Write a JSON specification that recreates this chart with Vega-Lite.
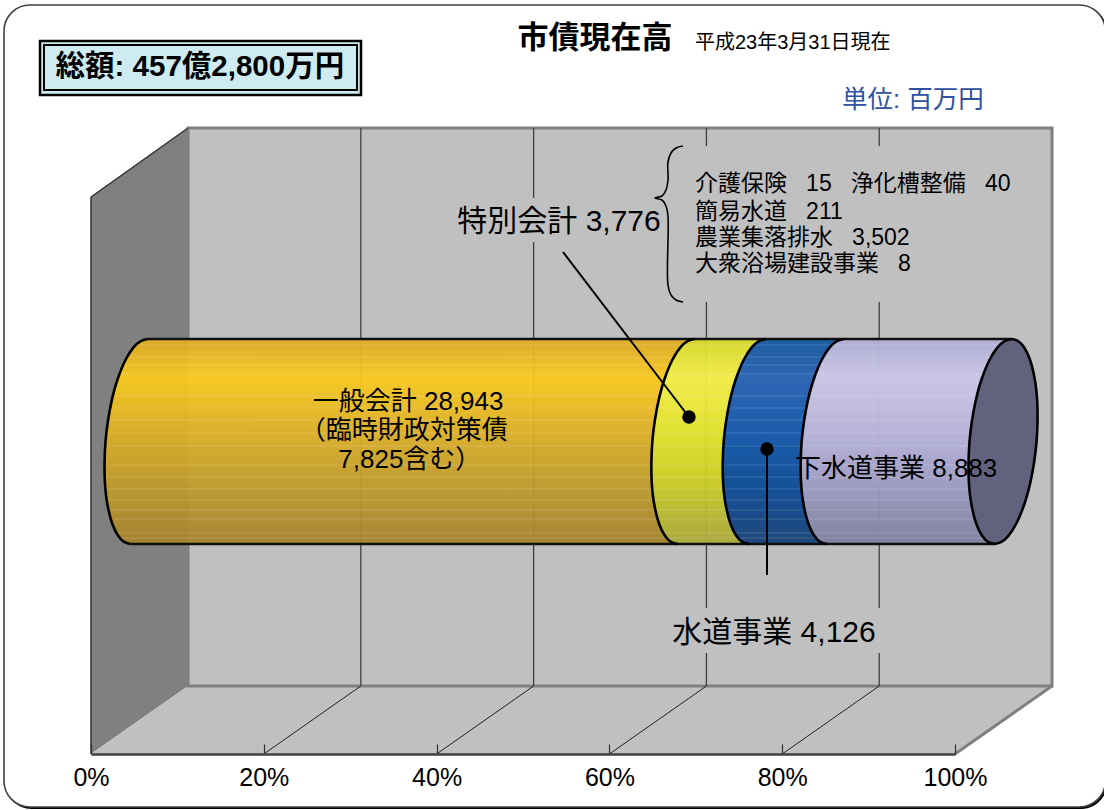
{"$schema":"https://vega.github.io/schema/vega-lite/v6.json","width":864,"height":754,"padding":{"left":91,"top":0,"right":149,"bottom":56},"autosize":{"type":"none"},"background":"#ffffff","config":{"view":{"stroke":null}},
"datasets":{
"frame":[{"x":-10.07,"x2":117.4,"y":749,"y2":-53}],
"shadow":[{"x":-9.9,"x2":117.6,"y":748,"y2":-55}],
"leftwall":[{"x":0,"y":0,"y2":557},{"x":11.23,"y":68,"y2":626}],
"floor":[{"x":0,"y":0,"y2":0},{"x":11.23,"y":68,"y2":0},{"x":100,"y":68,"y2":0},{"x":111.23,"y":68,"y2":68}],
"back":[{"x":11.23,"x2":111.23,"y":626,"y2":68}],
"wallgrid":[{"x":31.23,"x2":31.23,"y":626,"y2":68},{"x":51.23,"x2":51.23,"y":626,"y2":68},{"x":71.23,"x2":71.23,"y":626,"y2":68},{"x":91.23,"x2":91.23,"y":626,"y2":68}],
"floorgrid":[{"x":20,"x2":31.23,"y":0,"y2":68},{"x":40,"x2":51.23,"y":0,"y2":68},{"x":60,"x2":71.23,"y":0,"y2":68},{"x":80,"x2":91.23,"y":0,"y2":68}],
"darkedge":[{"x":0,"x2":0,"y":0,"y2":557},{"x":0,"x2":11.23,"y":557,"y2":626}],
"grayedge":[{"x":100,"x2":111.23,"y":0,"y2":68}],
"masks":[{"x":45,"x2":62,"y":556,"y2":512},{"x":69,"x2":110,"y":608,"y2":452},{"x":66,"x2":97,"y":146,"y2":101}],
"cyl":[
{"seg":"A","i":0,"y":415,"xl":6.54,"xr":69.83},{"seg":"A","i":1,"y":412.95,"xl":5.75,"xr":69.04},{"seg":"A","i":2,"y":406.8,"xl":4.95,"xr":68.24},{"seg":"A","i":3,"y":394.5,"xl":4.02,"xr":67.31},{"seg":"A","i":4,"y":374,"xl":3.05,"xr":66.34},{"seg":"A","i":5,"y":353.5,"xl":2.4,"xr":65.69},{"seg":"A","i":6,"y":333,"xl":1.96,"xr":65.25},{"seg":"A","i":7,"y":312.5,"xl":1.68,"xr":64.97},{"seg":"A","i":8,"y":292,"xl":1.57,"xr":64.86},{"seg":"A","i":9,"y":271.5,"xl":1.61,"xr":64.9},{"seg":"A","i":10,"y":251,"xl":1.87,"xr":65.16},{"seg":"A","i":11,"y":230.5,"xl":2.45,"xr":65.74},{"seg":"A","i":12,"y":218.2,"xl":3.14,"xr":66.43},{"seg":"A","i":13,"y":212.05,"xl":3.82,"xr":67.11},{"seg":"A","i":14,"y":210,"xl":4.58,"xr":67.87},
{"seg":"B","i":0,"y":415,"xl":69.83,"xr":78.09},{"seg":"B","i":1,"y":412.95,"xl":69.04,"xr":77.3},{"seg":"B","i":2,"y":406.8,"xl":68.24,"xr":76.5},{"seg":"B","i":3,"y":394.5,"xl":67.31,"xr":75.57},{"seg":"B","i":4,"y":374,"xl":66.34,"xr":74.6},{"seg":"B","i":5,"y":353.5,"xl":65.69,"xr":73.95},{"seg":"B","i":6,"y":333,"xl":65.25,"xr":73.51},{"seg":"B","i":7,"y":312.5,"xl":64.97,"xr":73.23},{"seg":"B","i":8,"y":292,"xl":64.86,"xr":73.12},{"seg":"B","i":9,"y":271.5,"xl":64.9,"xr":73.16},{"seg":"B","i":10,"y":251,"xl":65.16,"xr":73.42},{"seg":"B","i":11,"y":230.5,"xl":65.74,"xr":74},{"seg":"B","i":12,"y":218.2,"xl":66.43,"xr":74.69},{"seg":"B","i":13,"y":212.05,"xl":67.11,"xr":75.37},{"seg":"B","i":14,"y":210,"xl":67.87,"xr":76.13},
{"seg":"C","i":0,"y":415,"xl":78.09,"xr":87.11},{"seg":"C","i":1,"y":412.95,"xl":77.3,"xr":86.32},{"seg":"C","i":2,"y":406.8,"xl":76.5,"xr":85.52},{"seg":"C","i":3,"y":394.5,"xl":75.57,"xr":84.59},{"seg":"C","i":4,"y":374,"xl":74.6,"xr":83.62},{"seg":"C","i":5,"y":353.5,"xl":73.95,"xr":82.97},{"seg":"C","i":6,"y":333,"xl":73.51,"xr":82.53},{"seg":"C","i":7,"y":312.5,"xl":73.23,"xr":82.25},{"seg":"C","i":8,"y":292,"xl":73.12,"xr":82.14},{"seg":"C","i":9,"y":271.5,"xl":73.16,"xr":82.18},{"seg":"C","i":10,"y":251,"xl":73.42,"xr":82.44},{"seg":"C","i":11,"y":230.5,"xl":74,"xr":83.02},{"seg":"C","i":12,"y":218.2,"xl":74.69,"xr":83.71},{"seg":"C","i":13,"y":212.05,"xl":75.37,"xr":84.39},{"seg":"C","i":14,"y":210,"xl":76.13,"xr":85.15},
{"seg":"D","i":0,"y":415,"xl":87.11,"xr":106.54},{"seg":"D","i":1,"y":412.95,"xl":86.32,"xr":106.54},{"seg":"D","i":2,"y":406.8,"xl":85.52,"xr":106.54},{"seg":"D","i":3,"y":394.5,"xl":84.59,"xr":106},{"seg":"D","i":4,"y":374,"xl":83.62,"xr":106},{"seg":"D","i":5,"y":353.5,"xl":82.97,"xr":106},{"seg":"D","i":6,"y":333,"xl":82.53,"xr":106},{"seg":"D","i":7,"y":312.5,"xl":82.25,"xr":106},{"seg":"D","i":8,"y":292,"xl":82.14,"xr":106},{"seg":"D","i":9,"y":271.5,"xl":82.18,"xr":106},{"seg":"D","i":10,"y":251,"xl":82.44,"xr":106},{"seg":"D","i":11,"y":230.5,"xl":83.02,"xr":105},{"seg":"D","i":12,"y":218.2,"xl":83.71,"xr":105},{"seg":"D","i":13,"y":212.05,"xl":84.39,"xr":105},{"seg":"D","i":14,"y":210,"xl":85.15,"xr":104.58},
{"seg":"E","i":0,"y":415,"xl":106.54,"xr":106.54},{"seg":"E","i":1,"y":412.95,"xl":105.75,"xr":107.3},{"seg":"E","i":2,"y":406.8,"xl":104.95,"xr":107.99},{"seg":"E","i":3,"y":394.5,"xl":104.02,"xr":108.67},{"seg":"E","i":4,"y":374,"xl":103.05,"xr":109.25},{"seg":"E","i":5,"y":353.5,"xl":102.4,"xr":109.51},{"seg":"E","i":6,"y":333,"xl":101.96,"xr":109.55},{"seg":"E","i":7,"y":312.5,"xl":101.68,"xr":109.44},{"seg":"E","i":8,"y":292,"xl":101.57,"xr":109.16},{"seg":"E","i":9,"y":271.5,"xl":101.61,"xr":108.72},{"seg":"E","i":10,"y":251,"xl":101.87,"xr":108.07},{"seg":"E","i":11,"y":230.5,"xl":102.45,"xr":107.1},{"seg":"E","i":12,"y":218.2,"xl":103.14,"xr":106.18},{"seg":"E","i":13,"y":212.05,"xl":103.82,"xr":105.37},{"seg":"E","i":14,"y":210,"xl":104.58,"xr":104.58}],
"stripes":[{"x":5.17,"x2":105.56,"y":409},{"x":4.18,"x2":105.56,"y":397},{"x":3.71,"x2":105.56,"y":389},{"x":3.29,"x2":105.56,"y":380},{"x":2.53,"x2":105.56,"y":358},{"x":2.22,"x2":105.56,"y":346},{"x":1.97,"x2":105.56,"y":334},{"x":1.78,"x2":105.56,"y":321},{"x":1.64,"x2":105.56,"y":308},{"x":1.57,"x2":105.56,"y":289},{"x":1.58,"x2":105.56,"y":277},{"x":1.67,"x2":105.56,"y":265},{"x":1.81,"x2":105.56,"y":254},{"x":2.02,"x2":105.56,"y":244},{"x":2.27,"x2":105.56,"y":235},{"x":2.93,"x2":105.56,"y":221},{"x":3.33,"x2":105.56,"y":216}],
"edges":[{"x":6.54,"x2":106.54,"y":415,"y2":415},{"x":4.58,"x2":104.58,"y":210,"y2":210}],
"brace":[{"i":0,"x":68.52,"y":608},{"i":1,"x":67.71,"y":606},{"i":2,"x":67.13,"y":601},{"i":3,"x":66.78,"y":592},{"i":4,"x":66.78,"y":574},{"i":5,"x":66.55,"y":564},{"i":6,"x":66.09,"y":558},{"i":7,"x":65.28,"y":556},{"i":8,"x":66.09,"y":554},{"i":9,"x":66.55,"y":548},{"i":10,"x":66.78,"y":538},{"i":11,"x":66.78,"y":469},{"i":12,"x":67.13,"y":459},{"i":13,"x":67.71,"y":454},{"i":14,"x":68.52,"y":452}],
"leaders":[{"x":54.63,"x2":69.21,"y":502,"y2":337},{"x":78.24,"x2":78.24,"y":305,"y2":179}],
"dots":[{"x":69.21,"y":337},{"x":78.24,"y":305}],
"boxes":[{"x":-5.9,"x2":31.25,"y":713,"y2":659}],
"boxes2":[{"x":-5.44,"x2":30.79,"y":709,"y2":664}]
},
"layer":[
{"data":{"name":"shadow"},"mark":{"type":"rect","cornerRadius":26,"color":"#000000"},"encoding":{"x":{"field":"x","type":"quantitative","scale":{"domain":[0,100]},"title":null,"axis":{"values":[0,20,40,60,80,100],"labelExpr":"datum.value+'%'","grid":false,"zindex":1,"tickSize":-10,"tickColor":"#303030","tickWidth":1.2,"domainColor":"#404040","domainWidth":2.5,"labelFont":"Liberation Sans","labelFontSize":25,"labelColor":"#000000","labelPadding":21,"labelFlush":false,"labelOverlap":false}},"x2":{"field":"x2"},"y":{"field":"y","type":"quantitative","scale":{"domain":[0,754]},"axis":null},"y2":{"field":"y2"}}},
{"data":{"name":"frame"},"mark":{"type":"rect","cornerRadius":26,"fill":"#ffffff","stroke":"#404040","strokeWidth":1.6},"encoding":{"x":{"field":"x","type":"quantitative","scale":{"domain":[0,100]},"title":null},"x2":{"field":"x2"},"y":{"field":"y","type":"quantitative","scale":{"domain":[0,754]},"axis":null},"y2":{"field":"y2"}}},
{"data":{"name":"leftwall"},"mark":{"type":"area","color":"#808080"},"encoding":{"x":{"field":"x","type":"quantitative","scale":{"domain":[0,100]},"title":null},"y":{"field":"y","type":"quantitative","scale":{"domain":[0,754]},"axis":null},"y2":{"field":"y2"}}},
{"data":{"name":"floor"},"mark":{"type":"area","color":"#C0C0C0"},"encoding":{"x":{"field":"x","type":"quantitative","scale":{"domain":[0,100]},"title":null},"y":{"field":"y","type":"quantitative","scale":{"domain":[0,754]},"axis":null},"y2":{"field":"y2"}}},
{"data":{"name":"back"},"mark":{"type":"rect","fill":"#C0C0C0","stroke":"#808080","strokeWidth":3},"encoding":{"x":{"field":"x","type":"quantitative","scale":{"domain":[0,100]},"title":null},"x2":{"field":"x2"},"y":{"field":"y","type":"quantitative","scale":{"domain":[0,754]},"axis":null},"y2":{"field":"y2"}}},
{"data":{"name":"wallgrid"},"mark":{"type":"rule","color":"#404040","strokeWidth":1.3},"encoding":{"x":{"field":"x","type":"quantitative","scale":{"domain":[0,100]},"title":null},"x2":{"field":"x2"},"y":{"field":"y","type":"quantitative","scale":{"domain":[0,754]},"axis":null},"y2":{"field":"y2"}}},
{"data":{"name":"floorgrid"},"mark":{"type":"rule","color":"#202020","strokeWidth":1},"encoding":{"x":{"field":"x","type":"quantitative","scale":{"domain":[0,100]},"title":null},"x2":{"field":"x2"},"y":{"field":"y","type":"quantitative","scale":{"domain":[0,754]},"axis":null},"y2":{"field":"y2"}}},
{"data":{"name":"darkedge"},"mark":{"type":"rule","color":"#303030","strokeWidth":1.5},"encoding":{"x":{"field":"x","type":"quantitative","scale":{"domain":[0,100]},"title":null},"x2":{"field":"x2"},"y":{"field":"y","type":"quantitative","scale":{"domain":[0,754]},"axis":null},"y2":{"field":"y2"}}},
{"data":{"name":"grayedge"},"mark":{"type":"rule","color":"#808080","strokeWidth":3},"encoding":{"x":{"field":"x","type":"quantitative","scale":{"domain":[0,100]},"title":null},"x2":{"field":"x2"},"y":{"field":"y","type":"quantitative","scale":{"domain":[0,754]},"axis":null},"y2":{"field":"y2"}}},
{"data":{"name":"masks"},"mark":{"type":"rect","color":"#C0C0C0"},"encoding":{"x":{"field":"x","type":"quantitative","scale":{"domain":[0,100]},"title":null},"x2":{"field":"x2"},"y":{"field":"y","type":"quantitative","scale":{"domain":[0,754]},"axis":null},"y2":{"field":"y2"}}},
{"data":{"name":"cyl"},"transform":[{"filter":"datum.seg=='A'"}],"mark":{"type":"area","orient":"horizontal","interpolate":"monotone","opacity":0.95,"color":{"gradient":"linear","x1":0,"y1":0,"x2":0,"y2":1,"stops":[{"offset":0,"color":"#DDAA26"},{"offset":0.19,"color":"#FACA1E"},{"offset":0.45,"color":"#DDB027"},{"offset":0.75,"color":"#BC992D"},{"offset":1,"color":"#A5822E"}]}},"encoding":{"y":{"field":"y","type":"quantitative","scale":{"domain":[0,754]},"axis":null},"x":{"field":"xl","type":"quantitative","scale":{"domain":[0,100]},"title":null},"x2":{"field":"xr"}}},
{"data":{"name":"cyl"},"transform":[{"filter":"datum.seg=='B'"}],"mark":{"type":"area","orient":"horizontal","interpolate":"monotone","opacity":0.95,"color":{"gradient":"linear","x1":0,"y1":0,"x2":0,"y2":1,"stops":[{"offset":0,"color":"#D8D82A"},{"offset":0.19,"color":"#F3EE45"},{"offset":0.45,"color":"#E2E22C"},{"offset":0.65,"color":"#CFD222"},{"offset":1,"color":"#A8A83A"}]}},"encoding":{"y":{"field":"y","type":"quantitative","scale":{"domain":[0,754]},"axis":null},"x":{"field":"xl","type":"quantitative","scale":{"domain":[0,100]},"title":null},"x2":{"field":"xr"}}},
{"data":{"name":"cyl"},"transform":[{"filter":"datum.seg=='C'"}],"mark":{"type":"area","orient":"horizontal","interpolate":"monotone","opacity":0.97,"color":{"gradient":"linear","x1":0,"y1":0,"x2":0,"y2":1,"stops":[{"offset":0,"color":"#195AA0"},{"offset":0.19,"color":"#2A64B4"},{"offset":0.5,"color":"#1458A8"},{"offset":0.75,"color":"#104C94"},{"offset":1,"color":"#1B4478"}]}},"encoding":{"y":{"field":"y","type":"quantitative","scale":{"domain":[0,754]},"axis":null},"x":{"field":"xl","type":"quantitative","scale":{"domain":[0,100]},"title":null},"x2":{"field":"xr"}}},
{"data":{"name":"cyl"},"transform":[{"filter":"datum.seg=='D'"}],"mark":{"type":"area","orient":"horizontal","interpolate":"monotone","opacity":0.97,"color":{"gradient":"linear","x1":0,"y1":0,"x2":0,"y2":1,"stops":[{"offset":0,"color":"#AFADD6"},{"offset":0.19,"color":"#CAC7E6"},{"offset":0.5,"color":"#B4B0D8"},{"offset":0.75,"color":"#9A98BE"},{"offset":1,"color":"#80809E"}]}},"encoding":{"y":{"field":"y","type":"quantitative","scale":{"domain":[0,754]},"axis":null},"x":{"field":"xl","type":"quantitative","scale":{"domain":[0,100]},"title":null},"x2":{"field":"xr"}}},
{"data":{"name":"stripes"},"mark":{"type":"rule","color":"#ffffff","opacity":0.16,"strokeWidth":1},"encoding":{"x":{"field":"x","type":"quantitative","scale":{"domain":[0,100]},"title":null},"x2":{"field":"x2"},"y":{"field":"y","type":"quantitative","scale":{"domain":[0,754]},"axis":null}}},
{"data":{"name":"cyl"},"transform":[{"filter":"datum.seg=='E'"}],"mark":{"type":"area","orient":"horizontal","interpolate":"monotone","color":"#62627E"},"encoding":{"y":{"field":"y","type":"quantitative","scale":{"domain":[0,754]},"axis":null},"x":{"field":"xl","type":"quantitative","scale":{"domain":[0,100]},"title":null},"x2":{"field":"xr"}}},
{"data":{"name":"edges"},"mark":{"type":"rule","color":"#101010","strokeWidth":2.5},"encoding":{"x":{"field":"x","type":"quantitative","scale":{"domain":[0,100]},"title":null},"x2":{"field":"x2"},"y":{"field":"y","type":"quantitative","scale":{"domain":[0,754]},"axis":null},"y2":{"field":"y2"}}},
{"data":{"name":"cyl"},"mark":{"type":"line","color":"#000000","strokeWidth":2.6,"interpolate":"catmull-rom"},"encoding":{"x":{"field":"xl","type":"quantitative","scale":{"domain":[0,100]},"title":null},"y":{"field":"y","type":"quantitative","scale":{"domain":[0,754]},"axis":null},"detail":{"field":"seg"},"order":{"field":"i"}}},
{"data":{"name":"cyl"},"transform":[{"filter":"datum.seg=='E'"}],"mark":{"type":"line","color":"#000000","strokeWidth":2.6,"interpolate":"catmull-rom"},"encoding":{"x":{"field":"xr","type":"quantitative","scale":{"domain":[0,100]},"title":null},"y":{"field":"y","type":"quantitative","scale":{"domain":[0,754]},"axis":null},"order":{"field":"i"}}},
{"data":{"name":"brace"},"mark":{"type":"line","color":"#000000","strokeWidth":1.6,"interpolate":"catmull-rom"},"encoding":{"x":{"field":"x","type":"quantitative","scale":{"domain":[0,100]},"title":null},"y":{"field":"y","type":"quantitative","scale":{"domain":[0,754]},"axis":null},"order":{"field":"i"}}},
{"data":{"name":"leaders"},"mark":{"type":"rule","color":"#000000","strokeWidth":2},"encoding":{"x":{"field":"x","type":"quantitative","scale":{"domain":[0,100]},"title":null},"x2":{"field":"x2"},"y":{"field":"y","type":"quantitative","scale":{"domain":[0,754]},"axis":null},"y2":{"field":"y2"}}},
{"data":{"name":"dots"},"mark":{"type":"point","filled":true,"color":"#000000","opacity":1,"size":180},"encoding":{"x":{"field":"x","type":"quantitative","scale":{"domain":[0,100]},"title":null},"y":{"field":"y","type":"quantitative","scale":{"domain":[0,754]},"axis":null}}},
{"data":{"name":"boxes"},"mark":{"type":"rect","fill":"#CDEBF0","stroke":"#000000","strokeWidth":2.5},"encoding":{"x":{"field":"x","type":"quantitative","scale":{"domain":[0,100]},"title":null},"x2":{"field":"x2"},"y":{"field":"y","type":"quantitative","scale":{"domain":[0,754]},"axis":null},"y2":{"field":"y2"}}},
{"data":{"name":"boxes2"},"mark":{"type":"rect","fill":"#CDEBF0","stroke":"#000000","strokeWidth":2},"encoding":{"x":{"field":"x","type":"quantitative","scale":{"domain":[0,100]},"title":null},"x2":{"field":"x2"},"y":{"field":"y","type":"quantitative","scale":{"domain":[0,754]},"axis":null},"y2":{"field":"y2"}}},
{"data":{"values":[{"t":"総額:\u00a0457億2,800万円","x":12.6,"y":687}]},"mark":{"type":"text","font":"Liberation Sans, Noto Sans CJK JP","fontSize":29.5,"fontWeight":"bold","color":"#000000","align":"center","baseline":"middle"},"encoding":{"text":{"field":"t"},"x":{"field":"x","type":"quantitative","scale":{"domain":[0,100]},"title":null},"y":{"field":"y","type":"quantitative","scale":{"domain":[0,754]},"axis":null}}},
{"data":{"values":[{"t":"市債現在高","x":58.33,"y":715}]},"mark":{"type":"text","font":"Noto Sans CJK JP","fontSize":31,"fontWeight":"bold","color":"#000000","align":"center","baseline":"middle"},"encoding":{"text":{"field":"t"},"x":{"field":"x","type":"quantitative","scale":{"domain":[0,100]},"title":null},"y":{"field":"y","type":"quantitative","scale":{"domain":[0,754]},"axis":null}}},
{"data":{"values":[{"t":"平成23年3月31日現在","x":69.9,"y":711}]},"mark":{"type":"text","font":"Liberation Sans, Noto Sans CJK JP","fontSize":20,"color":"#000000","align":"left","baseline":"middle"},"encoding":{"text":{"field":"t"},"x":{"field":"x","type":"quantitative","scale":{"domain":[0,100]},"title":null},"y":{"field":"y","type":"quantitative","scale":{"domain":[0,754]},"axis":null}}},
{"data":{"values":[{"t":"単位:\u00a0百万円","x":86.92,"y":654}]},"mark":{"type":"text","font":"Liberation Sans, Noto Sans CJK JP","fontSize":25.5,"color":"#3050A0","align":"left","baseline":"middle"},"encoding":{"text":{"field":"t"},"x":{"field":"x","type":"quantitative","scale":{"domain":[0,100]},"title":null},"y":{"field":"y","type":"quantitative","scale":{"domain":[0,754]},"axis":null}}},
{"data":{"values":[{"t":"特別会計 3,776","x":54.17,"y":532},{"t":"水道事業 4,126","x":79.05,"y":121}]},"mark":{"type":"text","font":"Liberation Sans, Noto Sans CJK JP","fontSize":30,"color":"#000000","align":"center","baseline":"middle"},"encoding":{"text":{"field":"t"},"x":{"field":"x","type":"quantitative","scale":{"domain":[0,100]},"title":null},"y":{"field":"y","type":"quantitative","scale":{"domain":[0,754]},"axis":null}}},
{"data":{"values":[{"t":"一般会計 28,943","x":36.7,"y":352},{"t":"\uff08臨時財政対策債","x":36.2,"y":323},{"t":"7,825含む\uff09","x":36.9,"y":294}]},"mark":{"type":"text","font":"Liberation Sans, Noto Sans CJK JP","fontSize":26,"color":"#000000","align":"center","baseline":"middle"},"encoding":{"text":{"field":"t"},"x":{"field":"x","type":"quantitative","scale":{"domain":[0,100]},"title":null},"y":{"field":"y","type":"quantitative","scale":{"domain":[0,754]},"axis":null}}},
{"data":{"values":[{"t":"下水道事業 8,883","x":81.48,"y":285}]},"mark":{"type":"text","font":"Liberation Sans, Noto Sans CJK JP","fontSize":26,"color":"#000000","align":"left","baseline":"middle"},"encoding":{"text":{"field":"t"},"x":{"field":"x","type":"quantitative","scale":{"domain":[0,100]},"title":null},"y":{"field":"y","type":"quantitative","scale":{"domain":[0,754]},"axis":null}}},
{"data":{"values":[{"t":"介護保険\u00a0\u00a0\u00a015\u00a0\u00a0\u00a0浄化槽整備\u00a0\u00a0\u00a040","x":69.9,"y":570},{"t":"簡易水道\u00a0\u00a0\u00a0211","x":69.9,"y":542},{"t":"農業集落排水\u00a0\u00a0\u00a03,502","x":69.9,"y":516},{"t":"大衆浴場建設事業\u00a0\u00a0\u00a08","x":69.9,"y":490}]},"mark":{"type":"text","font":"Liberation Sans, Noto Sans CJK JP","fontSize":23,"color":"#000000","align":"left","baseline":"middle"},"encoding":{"text":{"field":"t"},"x":{"field":"x","type":"quantitative","scale":{"domain":[0,100]},"title":null},"y":{"field":"y","type":"quantitative","scale":{"domain":[0,754]},"axis":null}}}
]}
